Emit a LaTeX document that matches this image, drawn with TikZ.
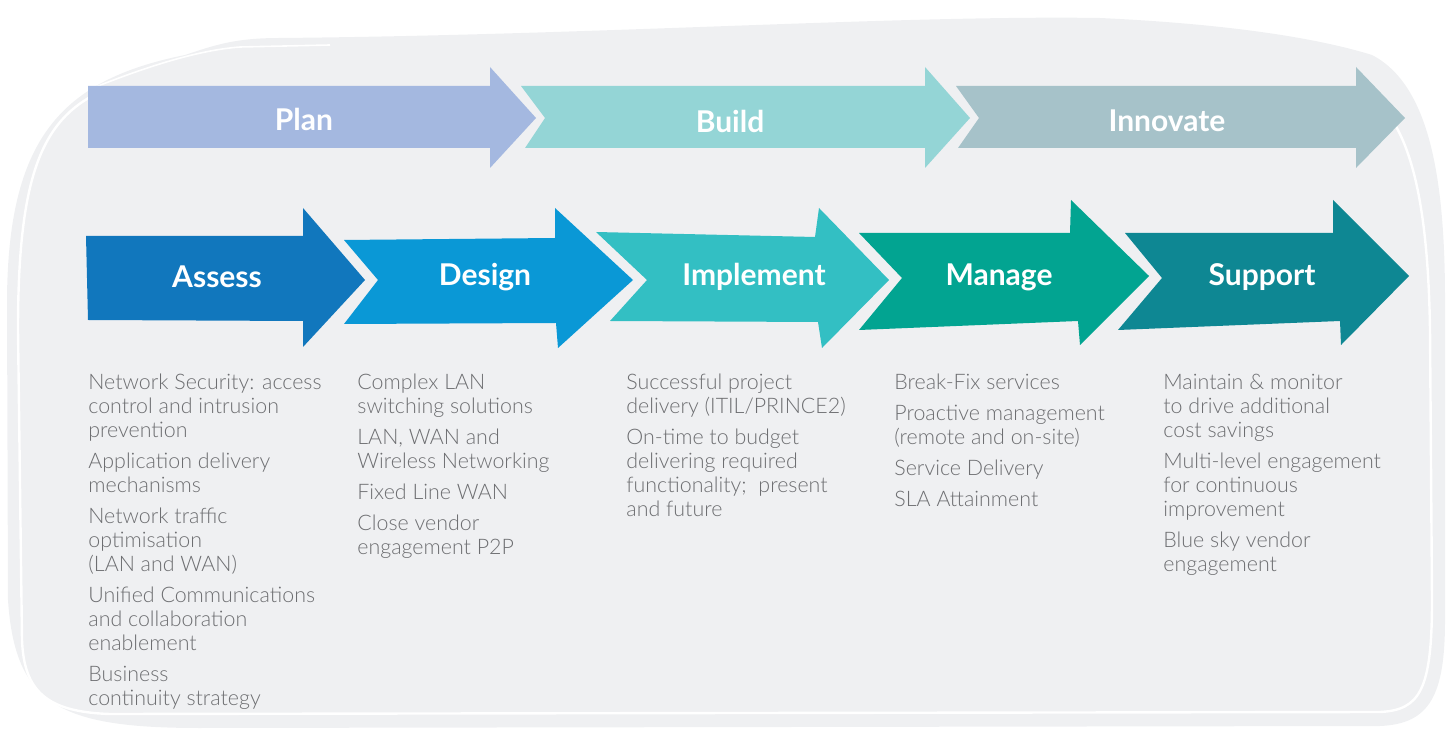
\documentclass[tikz,border=0pt]{standalone}
\usepackage{fontspec}
\setmainfont{Lato}
\newfontfamily\lightfont{Lato Light}
\usepackage{tikz}

\definecolor{bggray}{HTML}{EFF0F2}
\definecolor{txtgray}{HTML}{6D6E71}
\definecolor{planc}{HTML}{A4B8E0}
\definecolor{buildc}{HTML}{94D5D6}
\definecolor{innovc}{HTML}{A6C2C9}
\definecolor{assessc}{HTML}{1177BD}
\definecolor{designc}{HTML}{0A98D6}
\definecolor{implc}{HTML}{33BFC3}
\definecolor{managec}{HTML}{02A491}
\definecolor{supportc}{HTML}{0E8793}

\tikzset{
  phase/.style={text=white, inner sep=0pt, font=\bfseries\fontsize{15}{17}\selectfont},
  itemlist/.style={anchor=north west, inner sep=0pt, align=left, text=txtgray,
    font=\lightfont\fontsize{10.7}{12}\selectfont},
}

\begin{document}
\begin{tikzpicture}[x=0.5pt, y=-0.5pt]
			\useasboundingbox (0, 0) rectangle (1450, 731);

			% background
			\fill[bggray](8, 600)--(7, 300)..controls(8, 140) and (60, 80)..(185, 55)
				..controls(215, 45) and (235, 38)..(280, 38)
				..controls(600, 35) and (900, 15)..(1100, 18)
				..controls(1250, 25) and (1330, 42)..(1372, 55)
				..controls(1430, 85) and (1445, 180)..(1445, 300)--(1445, 620)
				..controls(1445, 695) and (1430, 724)..(1380, 726)--(200, 728)
				..controls(60, 728) and (15, 705)..(8, 600)--cycle;
			\draw[white, line width=1.2pt](100, 92)..controls(40, 120) and (18, 180)..(18, 330)
				--(22, 640)..controls(24, 690) and (45, 712)..(110, 714)--(1380, 712)
				..controls(1420, 710) and (1432, 690)..(1432, 600)--(1430, 330)
				..controls(1428, 200) and (1410, 130)..(1375, 100);
			\draw[white, line width=0.8pt](88, 90)..controls(150, 65) and (200, 50)..(240, 47)--(330, 45);

			% top row
			\fill[planc](88, 86)--(490, 86)--(490, 67)--(536, 118)--(490, 168)--(490, 148)--(88, 148)--cycle;
			\fill[buildc](521, 86)--(925, 86)--(925, 67)--(970, 118)--(925, 168)--(925, 148)--(525, 148)--(545, 118)--cycle;
			\fill[innovc](956, 86)--(1356, 86)--(1356, 67)--(1405, 118)--(1356, 168)--(1356, 148)--(958, 148)--(979, 118)--cycle;
			\node[phase] (plan) at (304, 119) {Plan};
			\node[phase] (build) at (730, 121) {Build};
			\node[phase] (innovate) at (1167, 121) {Innovate};

			% bottom row
			\fill[assessc](86, 236)--(303, 236)--(303, 208)--(365, 280)--(303, 347)--(303, 321)--(88, 320)--cycle;
			\fill[designc](344, 240)--(555, 238)--(555, 208)--(633, 280)--(558, 348)--(556, 323)--(344, 324)--(378, 280)--cycle;
			\fill[implc](596, 232)--(815, 237)--(819, 208)--(889, 280)--(822, 348)--(818, 322)--(610, 321)--(647, 280)--cycle;
			\fill[managec](859, 233)--(1070, 233)--(1071, 200)--(1149, 276)--(1080, 345)--(1078, 321)--(859, 330)--(902, 278)--cycle;
			\fill[supportc](1125, 233)--(1333, 233)--(1333, 200)--(1409, 276)--(1341, 345)--(1340, 321)--(1118, 330)--(1162, 278)--cycle;
			\node[phase] (assess) at (217, 277) {Assess};
			\node[phase] (design) at (485, 277) {Design};
			\node[phase] (implement) at (754, 277) {Implement};
			\node[phase] (manage) at (999, 277) {Manage};
			\node[phase] (support) at (1262, 277) {Support};

			% lists
			\node[itemlist] (assessList) at (88, 374) {Network Security: access\\control and intrusion\\prevention\\[3.5pt]
				Application delivery\\mechanisms\\[3.5pt]
				Network traffic\\optimisation\\(LAN and WAN)\\[3.5pt]
				Unified Communications\\and collaboration\\enablement\\[3.5pt]
				Business\\continuity strategy};
			\node[itemlist] (designList) at (357, 374) {Complex LAN\\switching solutions\\[3.5pt]
				LAN, WAN and\\Wireless Networking\\[3.5pt]
				Fixed Line WAN\\[3.5pt]
				Close vendor\\engagement P2P};
			\node[itemlist] (implementList) at (626, 374) {Successful project\\delivery (ITIL/PRINCE2)\\[3.5pt]
				On-time to budget\\delivering required\\functionality;~ present\\and future};
			\node[itemlist] (manageList) at (894, 374) {Break-Fix services\\[3.5pt]
				Proactive management\\(remote and on-site)\\[3.5pt]
				Service Delivery\\[3.5pt]
				SLA Attainment};
			\node[itemlist] (supportList) at (1163, 374) {Maintain \& monitor\\to drive additional\\cost savings\\[3.5pt]
				Multi-level engagement\\for continuous\\improvement\\[3.5pt]
				Blue sky vendor\\engagement};
		\end{tikzpicture}
\end{document}
